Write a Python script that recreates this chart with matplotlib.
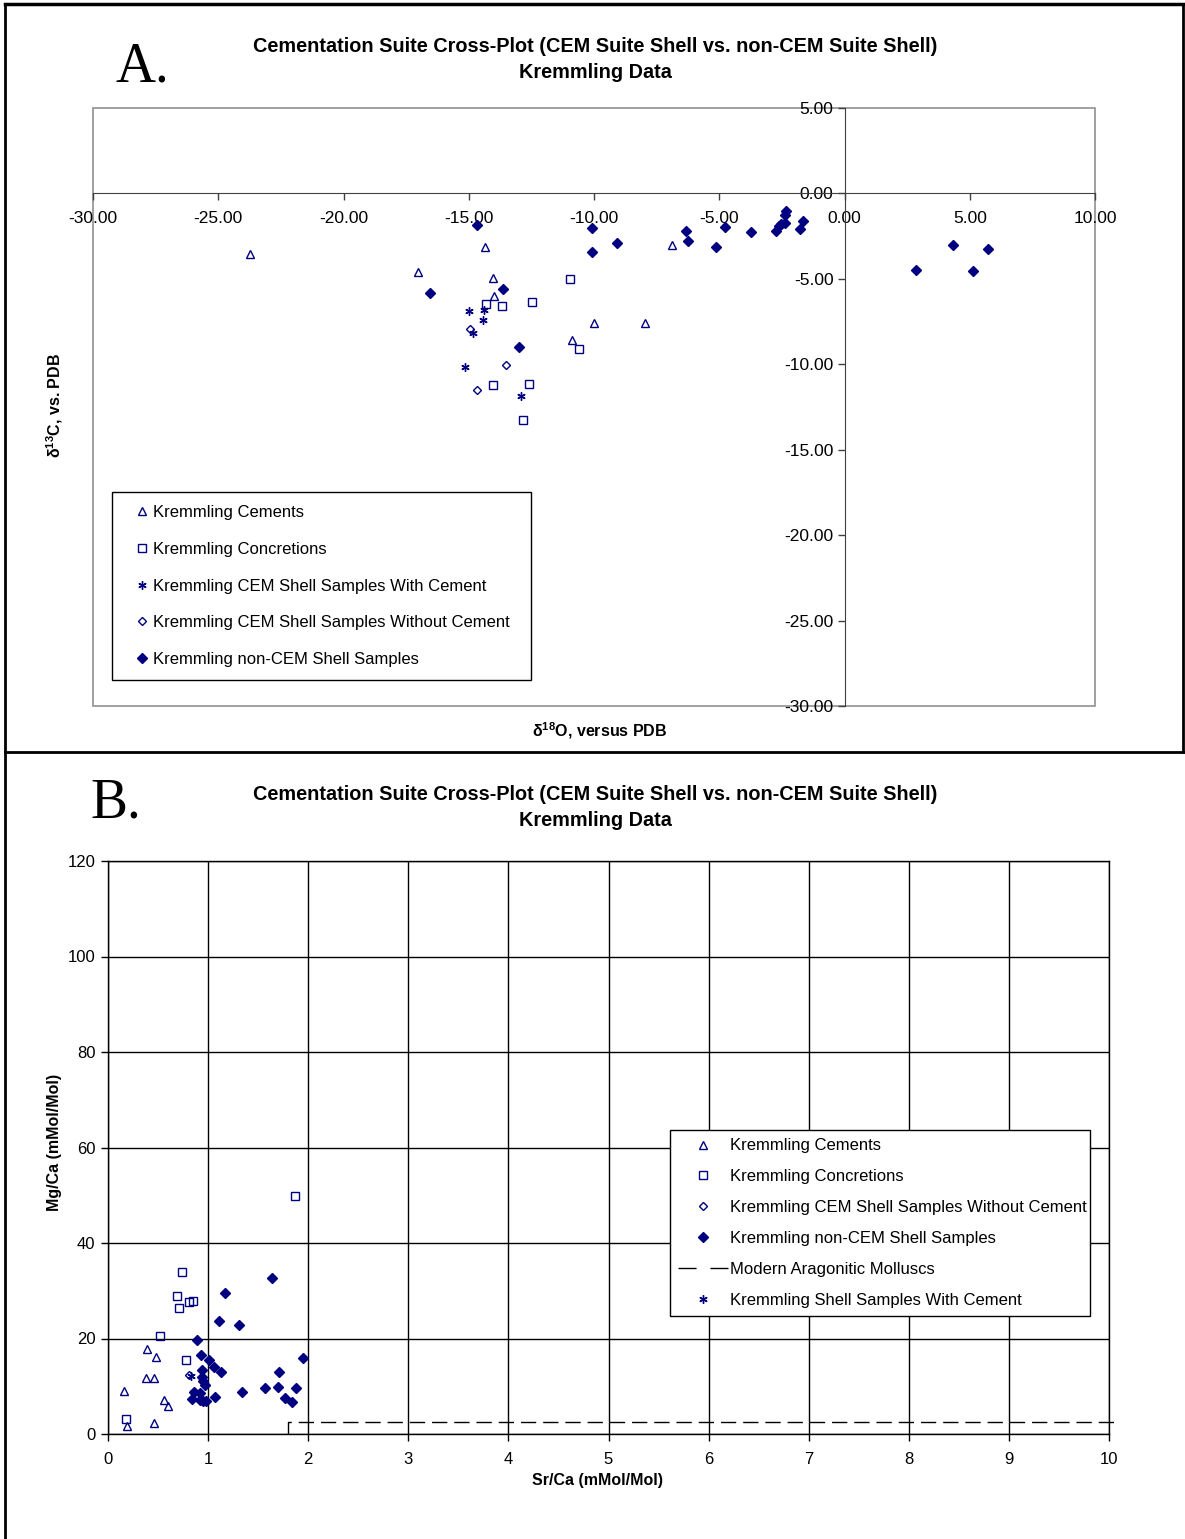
import matplotlib
matplotlib.use("Agg")
import matplotlib.pyplot as plt
from matplotlib.lines import Line2D
from matplotlib.patches import Rectangle
from matplotlib.ticker import FormatStrFormatter

plt.rcParams['font.family'] = ['Liberation Sans', 'DejaVu Sans']
plt.rcParams['axes.unicode_minus'] = False
plt.rcParams['mathtext.fontset'] = 'custom'
plt.rcParams['mathtext.rm'] = 'Liberation Sans'
plt.rcParams['mathtext.bf'] = 'Liberation Sans:bold'

W, H = 1185, 1539
NAVY = '#000080'

# ---------------------------
# Panel A data (d18O, d13C vs PDB)
# ---------------------------
a_cem_x = [-23.75, -17.01, -14.35, -14.04, -13.99, -10.88, -10.0, -7.97, -6.89]
a_cem_y = [-3.57, -4.61, -3.12, -4.94, -5.98, -8.55, -7.58, -7.58, -2.99]

a_conc_x = [-14.31, -13.69, -12.48, -10.97, -10.61, -14.05, -12.59, -12.84]
a_conc_y = [-6.48, -6.56, -6.33, -5.0, -9.08, -11.23, -11.13, -13.28]

a_with_x = [-15.0, -14.39, -14.44, -14.85, -15.13, -12.92]
a_with_y = [-6.89, -6.8, -7.40, -8.16, -10.15, -11.85]

a_without_x = [-14.95, -13.51, -14.67]
a_without_y = [-7.93, -10.04, -11.52]

a_non_x = [-14.68, -16.55, -13.64, -13.0, -10.07, -10.07, -9.09, -6.31, -6.25,
           -5.13, -4.79, -3.75, -2.73, -2.63, -2.52, -2.39, -2.36, -2.33,
           -1.77, -1.67, 2.84, 4.35, 5.11, 5.72]
a_non_y = [-1.82, -5.82, -5.57, -9.0, -2.05, -3.44, -2.91, -2.19, -2.79,
           -3.14, -1.95, -2.25, -2.19, -1.91, -1.8, -1.72, -1.29, -1.02,
           -2.11, -1.64, -4.47, -2.99, -4.55, -3.28]

# ---------------------------
# Panel B data (Sr/Ca, Mg/Ca)
# ---------------------------
b_cem_x = [0.387, 0.477, 0.383, 0.463, 0.16, 0.563, 0.60, 0.463, 0.187]
b_cem_y = [17.8, 16.2, 11.7, 11.7, 9.1, 7.05, 5.9, 2.2, 1.7]

b_conc_x = [1.873, 0.737, 0.687, 0.71, 0.813, 0.853, 0.523, 0.777, 0.18]
b_conc_y = [49.9, 34.0, 29.0, 26.3, 27.6, 27.9, 20.5, 15.4, 3.1]

b_without_x = [0.81]
b_without_y = [12.4]

b_non_x = [1.643, 1.167, 1.113, 1.307, 0.887, 0.927, 1.013, 1.057, 1.13, 0.943,
           1.947, 1.71, 0.94, 0.953, 0.967, 0.86, 0.92, 1.067, 1.343, 1.57,
           1.697, 1.877, 1.773, 1.837, 0.84, 0.92, 0.953, 0.98]
b_non_y = [32.7, 29.5, 23.6, 22.8, 19.6, 16.5, 15.4, 14.1, 13.05, 13.4,
           15.9, 13.05, 12.0, 11.0, 10.2, 8.7, 8.5, 7.7, 8.8, 9.6,
           9.9, 9.6, 7.5, 6.6, 7.3, 7.1, 7.0, 6.9]

b_modern_x = [1.8, 1.8, 10.05]
b_modern_y = [0, 2.5, 2.5]

b_with_x = [0.83, 0.86]
b_with_y = [12.2, 8.9]

title1 = "Cementation Suite Cross-Plot (CEM Suite Shell vs. non-CEM Suite Shell)"
title2 = "Kremmling Data"


def fx(px):
    return px / W


def fy(py):
    return 1 - py / H


def box(x0, y0, x1, y1):
    return [fx(x0), fy(y1), fx(x1) - fx(x0), fy(y0) - fy(y1)]


star = (6, 2, 0)
styles = {
    'cem': dict(marker='^', ms=6, mfc='none', mec=NAVY, mew=1.0, ls='none'),
    'conc': dict(marker='s', ms=5.5, mfc='none', mec=NAVY, mew=1.0, ls='none'),
    'with': dict(marker=star, ms=6, mfc=NAVY, mec=NAVY, mew=1.0, ls='none'),
    'without': dict(marker='D', ms=4.5, mfc='none', mec=NAVY, mew=1.0, ls='none'),
    'non': dict(marker='D', ms=5, mfc=NAVY, mec=NAVY, mew=1.0, ls='none'),
}

fig = plt.figure(figsize=(W / 100, H / 100), dpi=100)

# frame lines
for xs, ys, lw in [([5, 1183], [4, 4], 2.5), ([5, 5], [4, 1539], 2.0),
                   ([1183, 1183], [4, 752], 2.0), ([5, 1185], [752, 752], 2.0)]:
    fig.add_artist(Line2D([fx(x) for x in xs], [fy(y) for y in ys], color='black', lw=lw))

# ======================================================
# PANEL A
# ======================================================
axA = fig.add_axes(box(93, 108, 1095, 706))
axA.plot(a_cem_x, a_cem_y, label="Kremmling Cements", **styles['cem'])
axA.plot(a_conc_x, a_conc_y, label="Kremmling Concretions", **styles['conc'])
axA.plot(a_with_x, a_with_y, label="Kremmling CEM Shell Samples With Cement", **styles['with'])
axA.plot(a_without_x, a_without_y, label="Kremmling CEM Shell Samples Without Cement", **styles['without'])
axA.plot(a_non_x, a_non_y, label="Kremmling non-CEM Shell Samples", **styles['non'])
axA.set_xlim(-30, 10)
axA.set_ylim(-30, 5)
axA.set_xticks(range(-30, 11, 5))
axA.set_yticks(range(-30, 6, 5))
axA.xaxis.set_major_formatter(FormatStrFormatter('%.2f'))
axA.yaxis.set_major_formatter(FormatStrFormatter('%.2f'))
axA.spines['left'].set_position(('data', 0))
axA.spines['bottom'].set_position(('data', 0))
axA.spines['top'].set_visible(False)
axA.spines['right'].set_visible(False)
axA.spines['left'].set_color('#404040')
axA.spines['bottom'].set_color('#404040')
axA.add_patch(Rectangle((0, 0), 1, 1, transform=axA.transAxes, fill=False,
                        ec='#909090', lw=1.2, clip_on=False))
axA.tick_params(axis='both', direction='out', length=5, width=1, color='#404040',
                labelsize=12.5, colors='black')
axA.tick_params(axis='x', pad=8)
axA.tick_params(axis='y', pad=3)
legA = axA.legend(loc='upper left',
                  bbox_to_anchor=(fx(112), fy(492) - 0.01, fx(531) - fx(112), 0.01),
                  bbox_transform=fig.transFigure, mode='expand', borderaxespad=0,
                  fancybox=False, edgecolor='black', framealpha=1, fontsize=12,
                  handlelength=2.0, handletextpad=-0.35, labelspacing=1.3,
                  borderpad=0.8, numpoints=1)
legA.get_frame().set_linewidth(1.0)
fig.text(fx(600), fy(731), r'δ$^{\mathbf{18}}$O, versus PDB', ha='center', va='center',
         fontsize=11.5, fontweight='bold')
fig.text(fx(55), fy(405), r'δ$^{\mathbf{13}}$C, vs. PDB', ha='center', va='center',
         fontsize=11.5, fontweight='bold', rotation=90)
fig.text(fx(595), fy(46), title1, ha='center', va='center', fontsize=14.3, fontweight='bold')
fig.text(fx(595), fy(72), title2, ha='center', va='center', fontsize=14.3, fontweight='bold')
fig.text(fx(116), fy(82), "A.", ha='left', va='baseline', fontsize=40,
         family='Liberation Serif')

# ======================================================
# PANEL B
# ======================================================
axB = fig.add_axes(box(108, 861, 1109, 1434))
axB.plot(b_cem_x, b_cem_y, label="Kremmling Cements", **styles['cem'])
axB.plot(b_conc_x, b_conc_y, label="Kremmling Concretions", **styles['conc'])
axB.plot(b_without_x, b_without_y, label="Kremmling CEM Shell Samples Without Cement", **styles['without'])
axB.plot(b_non_x, b_non_y, label="Kremmling non-CEM Shell Samples", **styles['non'])
axB.plot(b_modern_x, b_modern_y, color='black', lw=1.0, dashes=(11, 5),
         label="Modern Aragonitic Molluscs", clip_on=False)
axB.plot(b_with_x, b_with_y, label="Kremmling Shell Samples With Cement", **styles['with'])
axB.set_xlim(0, 10)
axB.set_ylim(0, 120)
axB.set_xticks(range(0, 11))
axB.set_yticks(range(0, 121, 20))
axB.grid(True, color='black', lw=1.0)
axB.set_axisbelow(True)
for s in axB.spines.values():
    s.set_color('black')
    s.set_linewidth(1.0)
axB.tick_params(axis='both', direction='out', length=5, width=1, labelsize=12)
axB.tick_params(axis='x', pad=8)
axB.tick_params(axis='y', pad=4)

# legend proxy so the dashed sample shows two long dashes
handlesB, labelsB = axB.get_legend_handles_labels()
handlesB[4] = Line2D([], [], color='black', lw=1.0, dashes=(13, 10))
legB = axB.legend(handlesB, labelsB, loc='upper left',
                  bbox_to_anchor=(fx(670), fy(1130) - 0.01, fx(1090) - fx(670), 0.01),
                  bbox_transform=fig.transFigure, mode='expand', borderaxespad=0,
                  fancybox=False, edgecolor='black', framealpha=1, fontsize=12,
                  handlelength=3.0, handletextpad=0.1, labelspacing=0.95,
                  borderpad=0.5, numpoints=1)
legB.get_frame().set_linewidth(1.0)
fig.text(fx(598), fy(1481), "Sr/Ca (mMol/Mol)", ha='center', va='center',
         fontsize=11.5, fontweight='bold')
fig.text(fx(55), fy(1142), "Mg/Ca (mMol/Mol)", ha='center', va='center',
         fontsize=11.5, fontweight='bold', rotation=90)
fig.text(fx(595), fy(795), title1, ha='center', va='center', fontsize=14.3, fontweight='bold')
fig.text(fx(595), fy(821), title2, ha='center', va='center', fontsize=14.3, fontweight='bold')
fig.text(fx(90), fy(818), "B.", ha='left', va='baseline', fontsize=40,
         family='Liberation Serif')

fig.savefig("out.png", dpi=100)
